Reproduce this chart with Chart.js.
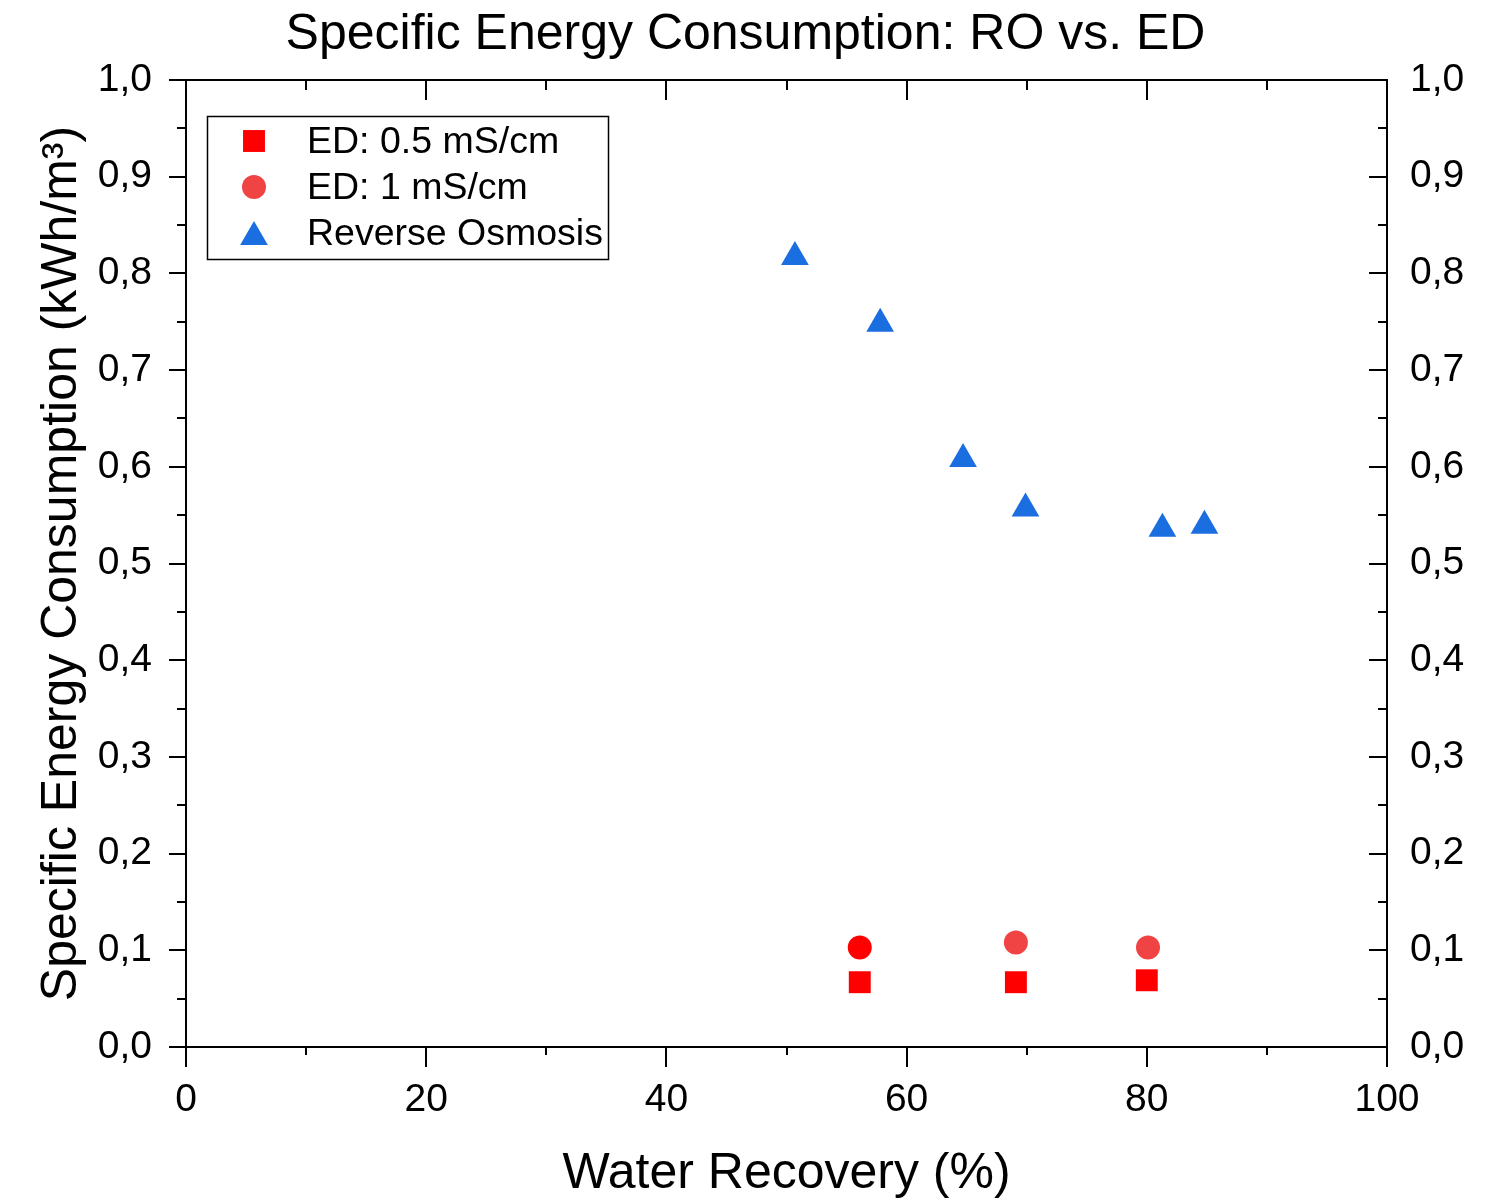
<!DOCTYPE html>
<html>
<head>
<meta charset="utf-8">
<script src="https://cdn.jsdelivr.net/npm/chart.js@4.4.1/dist/chart.umd.min.js"></script>
<style>
html,body{margin:0;padding:0;background:#fff;}
canvas{display:block;}
</style>
</head>
<body>
<canvas id="c" width="1491" height="1202"></canvas>
<script>
// ---- data ----
const chartTitle = 'Specific Energy Consumption: RO vs. ED';
const xTitle = 'Water Recovery (%)';
const yTitle = 'Specific Energy Consumption (kWh/m³)';
const seriesLabels = ['ED: 0.5 mS/cm', 'ED: 1 mS/cm', 'Reverse Osmosis'];
const ed05Recovery = [56.1, 69.1, 80.0];
const ed05SEC = [0.067, 0.067, 0.069];
const ed1Recovery = [56.1, 69.1, 80.1];
const ed1SEC = [0.103, 0.108, 0.103];
const roRecovery = [50.7, 57.8, 64.7, 69.9, 81.3, 84.8];
const roSEC = [0.817, 0.748, 0.608, 0.557, 0.536, 0.539];
const xMin = 0, xMax = 100, xStep = 20;
const yMin = 0, yMax = 1, yStep = 0.1;

const FONT = "'Liberation Sans', Arial, sans-serif";
const RED = '#ff0000', RED2 = '#f04343', BLUE = '#1a6ee0';

function toPts(xs, ys){ return xs.map((x,i)=>({x:x, y:ys[i]})); }
const fmtY = v => (Math.round(v*10)/10).toFixed(1).replace('.', ',');

const datasets = [
  {label: seriesLabels[0], data: toPts(ed05Recovery, ed05SEC), pointStyle:'rect', pointRadius:15.5,
   backgroundColor: RED, pointBackgroundColor: RED, borderWidth:0, pointBorderWidth:0, showLine:false},
  {label: seriesLabels[1], data: toPts(ed1Recovery, ed1SEC), pointStyle:'circle', pointRadius:12,
   backgroundColor: RED2, pointBackgroundColor: [RED, RED2, RED2], borderWidth:0, pointBorderWidth:0, showLine:false},
  {label: seriesLabels[2], data: toPts(roRecovery, roSEC), pointStyle:'triangle', pointRadius:16,
   backgroundColor: BLUE, pointBackgroundColor: BLUE, borderWidth:0, pointBorderWidth:0, showLine:false}
];

// minor/inward ticks + legend
const framePlugin = {
  id:'frame',
  afterDraw(chart){
    const ctx = chart.ctx, a = chart.chartArea;
    const sx = chart.scales.x, sy = chart.scales.y;
    ctx.save();
    ctx.strokeStyle = '#000'; ctx.lineWidth = 2;
    ctx.beginPath();
    for (let v = xMin; v <= xMax + 1e-9; v += xStep/2){
      const px = Math.round(sx.getPixelForValue(v));
      const major = Math.abs((v/xStep) - Math.round(v/xStep)) < 1e-6;
      ctx.moveTo(px, a.top); ctx.lineTo(px, a.top + (major ? 20 : 10));
      if (!major){ ctx.moveTo(px, a.bottom); ctx.lineTo(px, a.bottom + 8); }
    }
    for (let i = 0; i <= Math.round((yMax-yMin)/(yStep/2)); i++){
      const v = yMin + i*yStep/2;
      const py = Math.round(sy.getPixelForValue(v));
      const major = i % 2 === 0;
      ctx.moveTo(a.right, py); ctx.lineTo(a.right - (major ? 18 : 9), py);
      if (!major){ ctx.moveTo(a.left, py); ctx.lineTo(a.left - 9, py); }
    }
    ctx.stroke();

    // legend
    const L = a.left + 21, T = a.top + 36, W = 401, H = 143;
    ctx.lineWidth = 1.5;
    ctx.strokeRect(L + 0.5, T + 0.5, W, H);
    ctx.font = '37.5px ' + FONT;
    ctx.textBaseline = 'middle';
    ctx.textAlign = 'left';
    chart.data.datasets.forEach((ds, i) => {
      const cy = T + 25 + 46*i;
      const cx = L + 47;
      const r = ds.pointRadius;
      const off = ds.pointStyle === 'triangle' ? r*0.25 : 0;
      ctx.fillStyle = ds.backgroundColor;
      Chart.helpers.drawPoint(ctx, {pointStyle: ds.pointStyle, radius: r, rotation: 0, borderWidth: 0}, cx, cy + off);
      ctx.fillStyle = '#000';
      ctx.fillText(ds.label, L + 100, cy + 2);
    });
    ctx.restore();
  }
};

Chart.defaults.font.family = FONT;
Chart.defaults.color = '#000';

new Chart(document.getElementById('c'), {
  type: 'scatter',
  data: { datasets },
  options: {
    responsive: false,
    animation: false,
    devicePixelRatio: 1,
    layout: { padding: 0 },
    plugins: {
      legend: { display: false },
      tooltip: { enabled: false },
      title: { display: true, text: chartTitle, color:'#000',
               font: { size: 50, weight: 'normal', family: FONT, lineHeight: 1.2 },
               padding: { top: 5, bottom: 0 } }
    },
    scales: {
      x: {
        type: 'linear', position: 'bottom', min: xMin, max: xMax,
        afterBuildTicks(s){ s.ticks = []; for (let v = xMin; v <= xMax; v += xStep) s.ticks.push({value: v}); },
        ticks: { font: { size: 39 }, color:'#000', padding: 10, maxRotation: 0, autoSkip: false },
        grid: { drawOnChartArea: false, drawTicks: true, tickLength: 20, color: '#000', lineWidth: 2 },
        border: { display: true, color: '#000', width: 2 },
        title: { display: true, text: xTitle, color:'#000', font: { size: 50, lineHeight: 1.12 }, padding: { top: 0, bottom: 0 } },
        afterFit(s){ s.height = 155; }
      },
      x2: {
        type: 'linear', position: 'top', min: xMin, max: xMax,
        ticks: { display: false },
        grid: { display: true, drawOnChartArea: false, drawTicks: false, color: 'rgba(0,0,0,0)' },
        border: { display: true, color: '#000', width: 2 },
        afterFit(s){ s.height = 15; }
      },
      y: {
        type: 'linear', position: 'left', min: yMin, max: yMax,
        afterBuildTicks(s){ s.ticks = []; for (let i = 0; i <= 10; i++) s.ticks.push({value: yMin + i*yStep}); },
        ticks: { font: { size: 39 }, color:'#000', padding: 17, callback: v => fmtY(v), autoSkip: false },
        grid: { drawOnChartArea: false, drawTicks: true, tickLength: 17, color: '#000', lineWidth: 2 },
        border: { display: true, color: '#000', width: 2 },
        title: { display: true, text: yTitle, color:'#000', font: { size: 50, lineHeight: 1.2 }, padding: { top: 32, bottom: 0 } },
        afterFit(s){ s.width = 186; }
      },
      y2: {
        type: 'linear', position: 'right', min: yMin, max: yMax,
        afterBuildTicks(s){ s.ticks = []; for (let i = 0; i <= 10; i++) s.ticks.push({value: yMin + i*yStep}); },
        ticks: { font: { size: 39 }, color:'#000', padding: 23, callback: v => fmtY(v), autoSkip: false },
        grid: { display: true, drawOnChartArea: false, drawTicks: false, color: 'rgba(0,0,0,0)' },
        border: { display: true, color: '#000', width: 2 },
        afterFit(s){ s.width = 104; }
      }
    }
  },
  plugins: [framePlugin]
});
</script>
</body>
</html>
